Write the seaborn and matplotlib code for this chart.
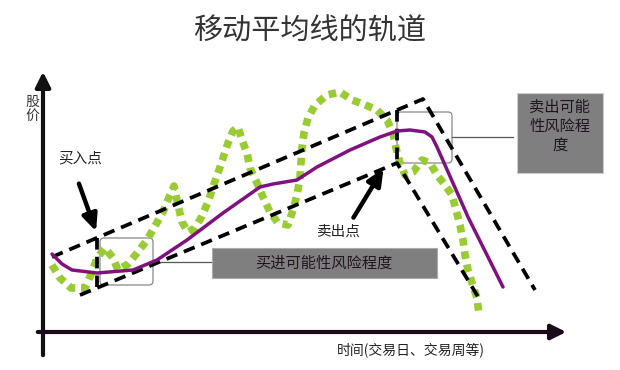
import numpy as np
import pandas as pd
import matplotlib
matplotlib.use("Agg")
import matplotlib.pyplot as plt
import seaborn as sns
from matplotlib.patches import FancyBboxPatch, Rectangle

# time / price units (origin at the axes crossing)
ma_t = [9, 19, 29, 54, 90, 114, 144, 180, 217, 230, 254, 274, 307, 337, 354, 367, 382, 389, 394, 425, 460]
ma_p = [78, 68, 62, 59, 62, 72, 92, 119, 145, 148, 152, 165, 182, 195, 201, 202, 200, 195, 185, 115, 45]

price_t = [9, 17, 28, 42, 49, 54, 62, 70, 75, 85, 94, 104, 112, 120, 127, 131, 135, 139, 145, 152,
           159, 165, 170, 175, 180, 185, 190, 195, 199, 204, 207, 214, 220, 227, 235, 245, 250, 254,
           257, 258, 259, 261, 265, 272, 284, 297, 309, 320, 334, 344, 350, 353, 357, 362, 370, 379,
           387, 394, 402, 409, 413, 417, 420, 422, 425, 429, 434, 436]
price_p = [67, 54, 44, 44, 60, 74, 84, 74, 62, 68, 79, 92, 106, 120, 137, 146, 127, 110, 100, 104,
           116, 130, 145, 159, 174, 189, 201, 205, 192, 179, 164, 149, 135, 120, 109, 107, 122, 137,
           154, 169, 184, 199, 214, 227, 237, 240, 232, 228, 222, 212, 199, 184, 169, 157, 160, 172,
           169, 157, 147, 137, 122, 107, 92, 77, 62, 49, 34, 18]

upper_t = [9, 380, 492]
upper_p = [75, 233, 42]
lower_t = [37, 354, 437]
lower_p = [37, 169, 32]
buy_line_t = [54, 54]
buy_line_p = [94, 45]
sell_line_t = [354, 354]
sell_line_p = [222, 169]

title = "移动平均线的轨道"
y_label = "股\n价"
x_label = "时间(交易日、交易周等)"
buy_text = "买入点"
sell_text = "卖出点"
buy_risk = "买进可能性风险程度"
sell_risk = "卖出可能\n性风险程\n度"

sns.set_style("white")
plt.rcParams['font.family'] = ['Noto Sans CJK SC', 'DejaVu Sans']

fig = plt.figure(figsize=(6.2, 3.7), dpi=100)
ax = fig.add_axes([0, 0, 1, 1])
ax.axis("off")

ma = pd.DataFrame({"t": ma_t, "p": ma_p})
price = pd.DataFrame({"t": price_t, "p": price_p})

dash_kw = dict(color="black", lw=2.7, dashes=(3.1, 1.9), zorder=3)
ax.plot(upper_t, upper_p, **dash_kw)
ax.plot(lower_t, lower_p, **dash_kw)
ax.plot(buy_line_t, buy_line_p, **dash_kw)
ax.plot(sell_line_t, sell_line_p, **dash_kw)

sns.lineplot(data=price, x="t", y="p", sort=False, ax=ax, color="#99cc33",
             lw=5.5, zorder=2)
ax.lines[-1].set_dashes((1, 0.75))
sns.lineplot(data=ma, x="t", y="p", sort=False, ax=ax, color="#7f127f", lw=2.5, zorder=4)
ax.set_xlim(-43, 577)
ax.set_ylim(-38, 332)

# axes arrows
ax.annotate("", xy=(0, 263), xytext=(0, -26),
            arrowprops=dict(arrowstyle="-|>,head_length=0.9,head_width=0.45", lw=3, color="#111111"))
ax.annotate("", xy=(526, 0), xytext=(-8, 0),
            arrowprops=dict(arrowstyle="-|>,head_length=0.9,head_width=0.45", lw=3, color="#1a0a1a"))

# callout brackets
ax.add_patch(FancyBboxPatch((57, 47), 53, 47, boxstyle="round,pad=0,rounding_size=4",
                            fc="none", ec="#888888", lw=0.9, zorder=1))
ax.plot([110, 170], [70, 70], color="#555555", lw=0.9, zorder=1)
ax.add_patch(FancyBboxPatch((354, 169), 55, 51, boxstyle="round,pad=0,rounding_size=4",
                            fc="none", ec="#888888", lw=0.9, zorder=1))
ax.plot([409, 470], [195, 195], color="#555555", lw=0.9, zorder=1)

# gray boxes
ax.add_patch(Rectangle((169, 54), 225, 30, fc="#7f7f7f", ec="#aaaaaa", lw=0.8, zorder=5))
ax.text(281, 69, buy_risk, ha="center", va="center", fontsize=11, color="#221522", zorder=6)
ax.add_patch(Rectangle((474, 159), 86, 80, fc="#7f7f7f", ec="#cccccc", lw=0.8, zorder=5))
ax.text(517, 206, sell_risk, ha="center", va="center", fontsize=11, color="#221522",
        linespacing=1.15, zorder=6)

# buy / sell arrows
ax.annotate("", xy=(54, 98), xytext=(35, 151),
            arrowprops=dict(arrowstyle="-|>,head_length=1.0,head_width=0.45", lw=3.2, color="black"))
ax.text(37, 174, buy_text, ha="center", va="center", fontsize=10.5, color="#222222")
ax.annotate("", xy=(342, 166), xytext=(309, 112),
            arrowprops=dict(arrowstyle="-|>,head_length=1.0,head_width=0.45", lw=3.2, color="black"))
ax.text(295, 100, sell_text, ha="center", va="center", fontsize=10.5, color="#222222")

ax.text(267, 300, title, ha="center", va="center", fontsize=21, color="#333333")
ax.text(-11, 223, y_label, ha="center", va="center", fontsize=10, color="#333333", linespacing=1.05)
ax.text(294, -18, x_label, ha="left", va="center", fontsize=10, color="#222222")

fig.savefig("out.png", dpi=100)
